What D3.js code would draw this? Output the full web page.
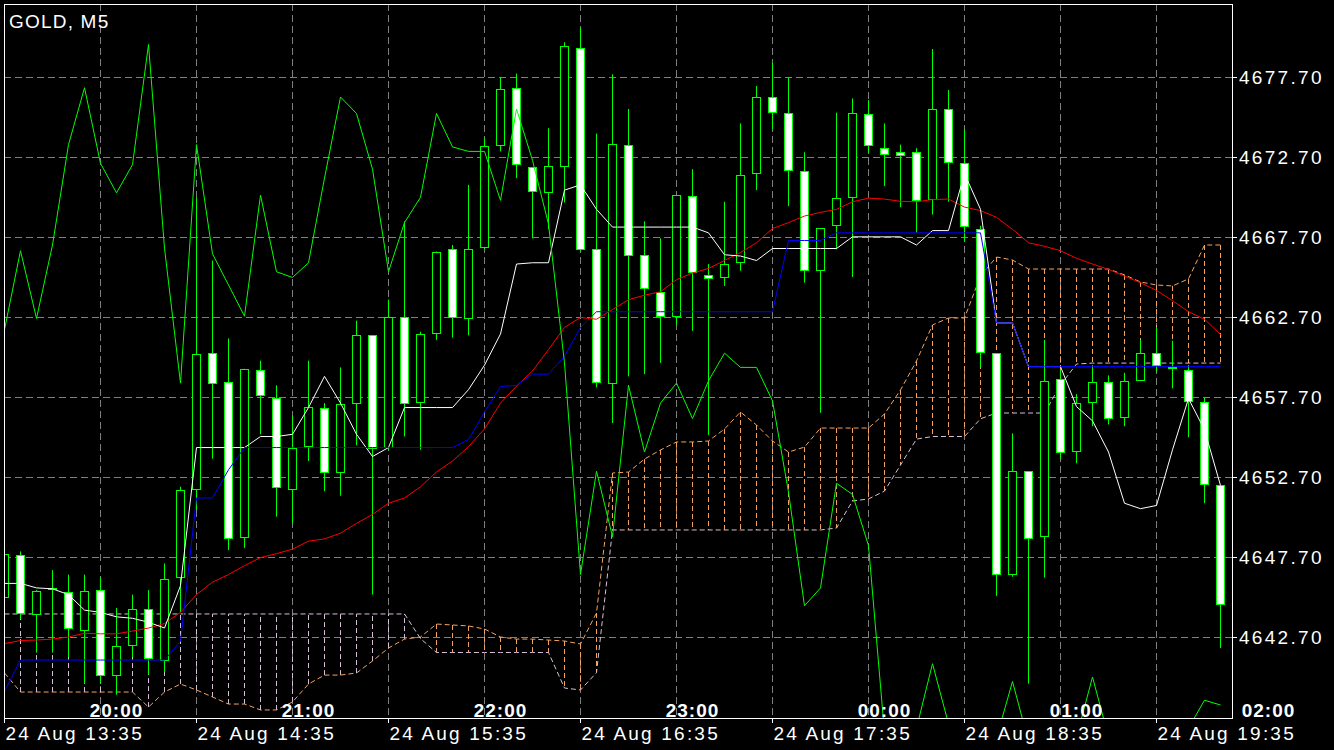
<!DOCTYPE html>
<html><head><meta charset="utf-8">
<script src="https://cdn.jsdelivr.net/npm/d3@7"></script>
<style>
html,body{margin:0;padding:0;background:#000;}
svg{display:block;}
text{font-family:"Liberation Sans",Arial,sans-serif;fill:#fff;}
</style></head><body>
<svg id="chart" width="1334" height="750"></svg>
<script>
const title = "GOLD, M5";
const opens = [4645.15,4647.80,4644.15,4645.68,4645.49,4643.12,4645.63,4640.34,4642.20,4644.43,
 4641.26,4646.46,4651.95,4660.44,4658.66,4648.97,4659.41,4657.63,4651.98,4654.68,
 4657.04,4653.01,4657.32,4661.58,4654.54,4662.72,4657.38,4661.72,4666.93,4662.61,
 4667.07,4673.44,4677.00,4672.08,4670.55,4672.16,4679.54,4666.93,4658.55,4673.47,
 4666.59,4664.28,4662.75,4670.27,4665.34,4665.20,4666.15,4671.71,4676.45,4675.44,
 4671.83,4665.62,4668.46,4670.21,4675.36,4673.25,4673.00,4673.00,4670.10,4675.70,
 4672.33,4668.23,4660.44,4646.66,4653.06,4649.02,4658.82,4654.31,4657.40,4658.63,
 4656.43,4658.77,4660.44,4659.60,4659.38,4657.38,4652.17];
const highs = [4648.00,4648.05,4645.63,4646.88,4646.60,4646.60,4646.46,4644.51,4645.35,4645.63,
 4647.30,4652.09,4670.13,4666.23,4661.36,4659.46,4659.97,4658.43,4656.49,4659.97,
 4657.32,4659.55,4662.47,4661.58,4663.78,4668.68,4661.78,4666.79,4667.20,4670.96,
 4673.89,4677.70,4677.92,4672.08,4674.50,4679.87,4680.76,4674.16,4677.87,4675.70,
 4668.68,4667.62,4670.32,4671.94,4666.01,4669.90,4674.80,4677.14,4678.62,4677.70,
 4673.00,4668.26,4675.47,4676.36,4676.25,4674.80,4673.47,4673.25,4679.45,4676.89,
 4674.44,4668.40,4660.44,4655.43,4653.06,4661.27,4659.41,4657.88,4659.69,4659.05,
 4659.21,4661.27,4662.05,4661.22,4659.69,4657.66,4652.17];
const lows = [4645.07,4643.82,4641.73,4641.73,4641.45,4639.78,4639.78,4639.09,4641.45,4640.34,
 4640.50,4644.24,4650.64,4653.84,4648.13,4648.27,4655.37,4650.22,4649.80,4653.70,
 4651.81,4651.53,4654.68,4645.35,4654.40,4655.23,4654.40,4661.27,4661.41,4661.55,
 4666.93,4673.05,4671.38,4667.62,4668.18,4669.85,4666.79,4658.30,4656.07,4658.99,
 4659.13,4659.83,4662.19,4661.83,4655.32,4664.64,4665.59,4670.63,4674.44,4669.63,
 4664.84,4656.71,4666.93,4665.20,4672.97,4670.88,4669.57,4667.98,4669.10,4669.90,
 4667.43,4659.55,4645.27,4646.46,4639.78,4646.41,4653.84,4653.56,4655.87,4655.98,
 4655.87,4658.77,4659.27,4658.24,4655.18,4651.06,4642.01];
const closes = [4647.86,4644.15,4645.57,4645.74,4643.23,4645.57,4640.34,4642.15,4644.43,4641.37,
 4646.32,4651.89,4660.38,4658.57,4648.91,4659.46,4657.82,4652.09,4654.54,4657.10,
 4653.01,4657.27,4661.58,4654.54,4662.67,4657.32,4661.66,4666.79,4662.67,4666.95,
 4673.38,4676.95,4672.22,4670.55,4672.16,4679.65,4666.98,4658.63,4673.50,4666.59,
 4664.53,4662.81,4670.32,4665.53,4665.17,4666.01,4671.58,4676.45,4675.53,4671.85,
 4665.62,4668.26,4670.13,4675.44,4673.41,4672.86,4672.83,4670.02,4675.70,4672.41,
 4668.37,4660.52,4646.60,4653.09,4648.89,4658.71,4654.26,4657.32,4658.63,4656.40,
 4658.71,4660.44,4659.69,4659.55,4657.46,4652.25,4644.74];
const tenkan = [4646.05,4646.05,4645.77,4645.71,4645.35,4644.38,4644.24,4643.96,4643.87,4643.62,
 4643.26,4645.91,4654.54,4654.54,4654.54,4654.54,4655.23,4655.23,4655.37,4657.04,
 4658.99,4657.32,4655.37,4653.98,4654.54,4657.04,4657.04,4657.04,4657.04,4658.16,
 4659.69,4661.64,4666.01,4666.09,4666.09,4670.63,4670.96,4669.43,4668.32,4668.32,
 4668.32,4668.32,4668.32,4668.32,4667.96,4666.59,4666.51,4666.23,4666.98,4666.98,
 4666.98,4666.98,4666.98,4667.71,4667.71,4667.71,4667.71,4667.20,4668.10,4668.10,
 4671.66,4669.43,4662.33,4662.33,4659.60,4659.60,4659.60,4657.10,4656.21,4654.26,
 4651.06,4650.72,4650.92,4654.40,4657.60,4655.65,4652.17];
const kijun = [4639.30,4641.26,4641.26,4641.26,4641.26,4641.26,4641.26,4641.26,4641.26,4641.26,
 4641.26,4642.43,4651.39,4651.39,4653.15,4654.54,4654.54,4654.54,4654.54,4654.54,
 4654.54,4654.54,4654.54,4654.54,4654.54,4654.54,4654.54,4654.54,4654.54,4655.04,
 4656.76,4658.35,4658.43,4659.13,4659.13,4660.24,4662.05,4663.03,4663.03,4663.03,
 4663.03,4663.03,4663.03,4663.03,4663.03,4663.03,4663.03,4663.03,4663.03,4667.48,
 4667.48,4667.48,4667.96,4667.96,4667.96,4667.96,4667.96,4667.96,4667.96,4667.96,
 4667.96,4667.96,4662.33,4662.33,4659.60,4659.60,4659.60,4659.60,4659.60,4659.60,
 4659.60,4659.60,4659.60,4659.60,4659.60,4659.60,4659.60];
const movingAvg = [4642.29,4642.48,4642.51,4642.57,4642.70,4642.93,4642.90,4642.90,4643.07,4643.26,
 4643.54,4644.24,4645.35,4646.13,4646.60,4647.16,4647.66,4647.91,4648.19,4648.69,
 4648.83,4649.19,4649.80,4650.36,4651.06,4651.39,4652.09,4653.01,4653.70,4654.59,
 4655.71,4657.32,4658.38,4659.33,4660.66,4662.05,4662.67,4662.56,4663.17,4663.78,
 4664.06,4664.28,4665.03,4665.45,4665.73,4666.23,4666.73,4667.34,4668.23,4668.60,
 4669.01,4669.24,4669.43,4669.90,4670.13,4670.07,4669.93,4669.90,4670.04,4670.07,
 4669.57,4669.35,4668.93,4668.18,4667.34,4667.12,4666.84,4666.37,4666.01,4665.67,
 4665.26,4664.84,4664.36,4663.72,4663.03,4662.56,4661.61];
const chikou = [4661.91,4666.84,4662.61,4667.20,4673.47,4677.03,4672.30,4670.46,4672.22,4679.73,
 4667.00,4658.57,4673.47,4666.65,4664.70,4662.75,4670.32,4665.53,4665.17,4666.09,
 4671.38,4676.45,4675.42,4671.94,4665.53,4668.60,4670.18,4675.42,4673.33,4673.05,
 4673.05,4669.99,4675.70,4672.49,4668.51,4659.83,4646.60,4653.06,4648.97,4658.43,
 4654.26,4657.32,4658.57,4656.35,4658.71,4660.44,4659.55,4659.55,4657.46,4651.75,
 4644.65,4645.77,4652.31,4651.61,4648.41,4636.72,4635.33,4637.00,4641.03,4637.28,
 4635.33,4635.61,4636.39,4639.92,4636.16,4635.05,4635.33,4636.44,4640.20,4636.44,
 4635.05,4634.49,4635.05,4635.61,4637.00,4638.75,4638.45];
const spanA = [4640.45,4639.26,4639.26,4639.26,4639.26,4639.26,4639.26,4639.26,4639.26,4638.32,
 4639.26,4639.76,4639.39,4638.95,4638.51,4638.51,4638.14,4638.14,4638.64,4639.76,
 4640.32,4640.32,4640.45,4641.20,4642.01,4642.57,4642.70,4643.51,4643.45,4643.39,
 4643.20,4642.70,4642.57,4642.57,4642.51,4642.45,4642.26,4644.20,4652.95,4653.01,
 4653.82,4654.39,4654.89,4654.89,4654.95,4655.70,4656.76,4655.95,4654.95,4654.26,
 4654.57,4655.76,4655.76,4655.76,4655.76,4656.64,4658.14,4659.95,4662.20,4662.64,
 4662.64,4665.26,4666.45,4666.26,4665.70,4665.70,4665.70,4665.70,4665.70,4665.70,
 4665.33,4664.89,4664.70,4664.64,4665.08,4667.20,4667.20];
const spanB = [4644.14,4644.14,4644.14,4644.14,4644.14,4644.14,4644.14,4644.14,4644.14,4644.14,
 4644.14,4644.14,4644.14,4644.14,4644.14,4644.14,4644.14,4644.14,4644.14,4644.14,
 4644.14,4644.14,4644.14,4644.14,4644.14,4644.14,4642.60,4641.73,4641.73,4641.73,
 4641.73,4641.73,4641.73,4641.73,4641.73,4639.51,4639.39,4640.47,4649.39,4649.39,
 4649.39,4649.39,4649.39,4649.39,4649.39,4649.39,4649.39,4649.39,4649.39,4649.39,
 4649.39,4649.39,4649.51,4651.20,4651.33,4651.82,4653.45,4655.07,4655.23,4655.23,
 4655.23,4656.34,4656.70,4656.70,4656.70,4656.70,4658.45,4659.76,4659.82,4659.82,
 4659.82,4659.82,4659.82,4659.82,4659.82,4659.82,4659.82];
const priceTicks = [4642.70,4647.70,4652.70,4657.70,4662.70,4667.70,4672.70,4677.70];
const gridBars = [6,12,18,24,30,36,42,48,54,60,66,72];
const dateTickBars = [0,12,24,36,48,60,72];
const dateTickLabels = ["24 Aug 13:35","24 Aug 14:35","24 Aug 15:35","24 Aug 16:35","24 Aug 17:35","24 Aug 18:35","24 Aug 19:35"];
const hourTickBars = [7,19,31,43,55,67,79];
const hourTickLabels = ["20:00","21:00","22:00","23:00","00:00","01:00","02:00"];

const L = 4, R = 1232, T = 4, B = 718;
const svg = d3.select("#chart");
svg.append("rect").attr("width",1334).attr("height",750).attr("fill","#000");

const x = d3.scaleLinear().domain([0, 76]).range([4.5, 1220.5]);
const y = d3.scaleLinear().domain([4642.7, 4677.7]).range([637, 77]);

svg.append("defs").append("clipPath").attr("id","plotclip")
  .append("rect").attr("x",L).attr("y",T).attr("width",R-L).attr("height",B-T);

const plot = svg.append("g").attr("clip-path","url(#plotclip)");

// grid
const grid = plot.append("g").attr("stroke","#808080").attr("stroke-width",1).attr("stroke-dasharray","7,4");
grid.selectAll("line.h").data(priceTicks).join("line")
  .attr("x1",L).attr("x2",R)
  .attr("y1",d=>Math.round(y(d))+0.5).attr("y2",d=>Math.round(y(d))+0.5);
grid.selectAll("line.v").data(gridBars).join("line")
  .attr("x1",d=>x(d)).attr("x2",d=>x(d))
  .attr("y1",T).attr("y2",B);

// hour labels (inside plot bottom)
svg.append("g").selectAll("text").data(hourTickBars).join("text")
  .attr("x",d=>x(d)).attr("y",717)
  .attr("text-anchor","middle")
  .style("font-size","19px").style("font-weight","bold").style("letter-spacing","1px")
  .text((d,i)=>hourTickLabels[i]);

// cloud
const idx = d3.range(opens.length);
const hatch = plot.append("g").attr("stroke-width",1).attr("stroke-dasharray","5,3");
hatch.selectAll("line").data(idx).join("line")
  .attr("x1",i=>x(i)).attr("x2",i=>x(i))
  .attr("y1",i=>y(spanA[i])).attr("y2",i=>y(spanB[i]))
  .attr("stroke",i=>spanA[i]>=spanB[i] ? "#F4A460" : "#D8BFD8");
const lineOf = arr => d3.line().x((d,i)=>x(i)).y(d=>y(d))(arr);
plot.append("path").attr("d",lineOf(spanA)).attr("fill","none")
  .attr("stroke","#F4A460").attr("stroke-width",1).attr("stroke-dasharray","5,3");
plot.append("path").attr("d",lineOf(spanB)).attr("fill","none")
  .attr("stroke","#D8BFD8").attr("stroke-width",1).attr("stroke-dasharray","5,3");

// candles
const candles = plot.append("g");
candles.selectAll("line").data(idx).join("line")
  .attr("x1",i=>x(i)).attr("x2",i=>x(i))
  .attr("y1",i=>y(highs[i])).attr("y2",i=>y(lows[i]))
  .attr("stroke","#00FF00").attr("stroke-width",1);
candles.selectAll("rect").data(idx).join("rect")
  .attr("x",i=>x(i)-4).attr("width",8)
  .attr("y",i=>Math.round(y(Math.max(opens[i],closes[i])))+0.5)
  .attr("height",i=>Math.max(1,Math.round(Math.abs(y(opens[i])-y(closes[i])))))
  .attr("fill",i=>closes[i]<opens[i] ? "#FFFFFF" : "#000000")
  .attr("stroke","#00FF00").attr("stroke-width",1);

// indicator lines
plot.append("path").attr("d",lineOf(movingAvg)).attr("fill","none").attr("stroke","#FF0000").attr("stroke-width",1);
plot.append("path").attr("d",lineOf(tenkan)).attr("fill","none").attr("stroke","#FFFFFF").attr("stroke-width",1);
plot.append("path").attr("d",lineOf(kijun)).attr("fill","none").attr("stroke","#0000FF").attr("stroke-width",1);
plot.append("path").attr("d",lineOf(chikou)).attr("fill","none").attr("stroke","#00FF00").attr("stroke-width",1);

// frame
svg.append("rect").attr("x",L+0.5).attr("y",T+0.5).attr("width",R-L).attr("height",B-T)
  .attr("fill","none").attr("stroke","#FFFFFF").attr("stroke-width",1);

// right axis
const ra = svg.append("g");
ra.selectAll("line").data(priceTicks).join("line")
  .attr("x1",R).attr("x2",R+5)
  .attr("y1",d=>Math.round(y(d))+0.5).attr("y2",d=>Math.round(y(d))+0.5)
  .attr("stroke","#FFFFFF");
ra.selectAll("text").data(priceTicks).join("text")
  .attr("x",1239).attr("y",d=>y(d)+7)
  .style("font-size","19px").style("letter-spacing","2.3px")
  .text(d=>d3.format(".2f")(d));

// bottom axis
const ba = svg.append("g");
ba.selectAll("line").data(dateTickBars).join("line")
  .attr("x1",d=>Math.floor(x(d))+0.5).attr("x2",d=>Math.floor(x(d))+0.5)
  .attr("y1",B).attr("y2",B+5).attr("stroke","#FFFFFF");
ba.selectAll("text").data(dateTickBars).join("text")
  .attr("x",d=>x(d)+1).attr("y",740)
  .style("font-size","19px").style("letter-spacing","2.2px")
  .text((d,i)=>dateTickLabels[i]);

// title
svg.append("text").attr("x",9).attr("y",28)
  .style("font-size","19px").style("letter-spacing","1.2px").text(title);
</script>
</body></html>
